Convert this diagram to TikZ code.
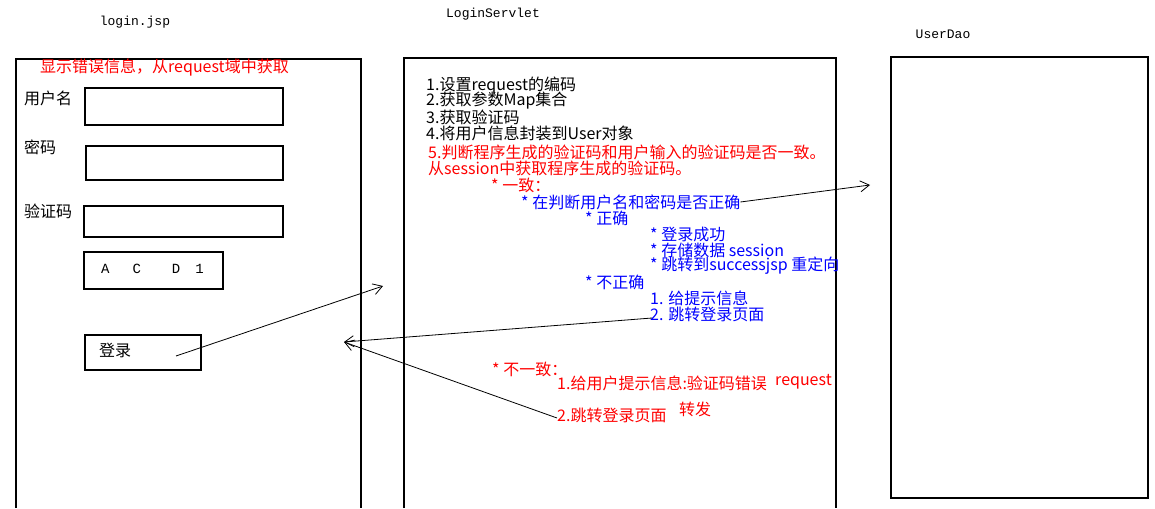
\documentclass[tikz,border=0pt]{standalone}
\usepackage{fontspec}
\setmainfont{Noto Sans CJK SC}
\newfontfamily\monofont{Liberation Mono}
\usetikzlibrary{arrows.meta}
\definecolor{myred}{RGB}{255,0,0}
\definecolor{myblue}{RGB}{0,0,255}
\tikzset{
  frame/.style={line width=1.2pt},
  field/.style={draw, line width=1.2pt},
  title/.style={font=\monofont\fontsize{13}{13}\selectfont, inner sep=0pt},
  txt/.style={anchor=west, inner sep=0pt, font=\fontsize{16}{16}\selectfont},
  rtxt/.style={txt, text=myred},
  btxt/.style={txt, text=myblue},
  flow/.style={line width=0.8pt, -{Straight Barb[length=9pt,width=11pt,line width=0.8pt]}},
}
\begin{document}
\begin{tikzpicture}[x=1pt,y=-1pt]
\useasboundingbox[fill=white] (0,0) rectangle (1155,508);
% columns
\draw[frame] (16,508) -- (16,59) -- (361,59) -- (361,508);
\draw[frame] (404,508) -- (404,58) -- (836,58) -- (836,508);
\draw[frame] (891,57) rectangle (1148,498);
% titles
\node[title] (t1) at (135,22) {login.jsp};
\node[title] (t2) at (493,14) {LoginServlet};
\node[title] (t3) at (943,34) {UserDao};
% login.jsp
\node[rtxt] (err) at (40,68) {显示错误信息，从request域中获取};
\node[txt] (lu) at (24,98) {用户名};
\draw[field] (85,88) rectangle (283,125);
\node[txt] (lp) at (24,147) {密码};
\draw[field] (86,146) rectangle (283,180);
\node[txt] (lc) at (24,211) {验证码};
\draw[field] (84,206) rectangle (283,237);
\node[field, minimum width=139pt, minimum height=37pt, inner sep=0pt] (cap) at (153.5,270.5) {};
\node[anchor=west, inner sep=0pt, font=\monofont\fontsize{14}{14}\selectfont] (capt) at (101,269)
  {A\hspace{23pt}C\hspace{31pt}D\hspace{15pt}1};
\node[field, minimum width=116pt, minimum height=35pt, inner sep=0pt] (btn) at (143,352.5) {};
\node[txt] (btnt) at (99,350) {登录};
% servlet
\node[txt] (s1) at (426,86) {1.设置request的编码};
\node[txt] (s2) at (426,101) {2.获取参数Map集合};
\node[txt] (s3) at (426,117) {3.获取验证码};
\node[txt] (s4) at (426,133) {4.将用户信息封装到User对象};
\node[rtxt] (s5) at (428,152) {5.判断程序生成的验证码和用户输入的验证码是否一致。};
\node[rtxt] (s6) at (428,168) {从session中获取程序生成的验证码。};
\node[rtxt] (s7) at (491,185) {* 一致：};
\node[btxt] (s8) at (521,202) {* 在判断用户名和密码是否正确};
\node[btxt] (s9) at (585,218) {* 正确};
\node[btxt] (s10) at (650,234) {* 登录成功};
\node[btxt] (s11) at (650,250) {* 存储数据 session};
\node[btxt] (s12) at (650,266) {* 跳转到successjsp 重定向};
\node[btxt] (s13) at (585,282) {* 不正确};
\node[btxt] (s14) at (650,298) {1. 给提示信息};
\node[btxt] (s15) at (650,314) {2. 跳转登录页面};
\node[rtxt] (s16) at (492,369) {* 不一致：};
\node[rtxt] (s17) at (557,383) {1.给用户提示信息:验证码错误};
\node[rtxt] (s18) at (775,382) {request};
\node[rtxt] (s19) at (679,409) {转发};
\node[rtxt] (s20) at (557,415) {2.跳转登录页面};
% connectors
\coordinate (c1) at (176,356);
\coordinate (c2) at (383,286);
\coordinate (c3) at (870,185);
\coordinate (c4) at (652,318);
\coordinate (c5) at (557,418);
\coordinate (c6) at (344,342);
\draw[flow] (c1) -- (c2);
\draw[flow] (s8.east) -- (c3);
\draw[flow] (c4) -- (c6);
\draw[flow] (c5) -- (c6);
\end{tikzpicture}
\end{document}
